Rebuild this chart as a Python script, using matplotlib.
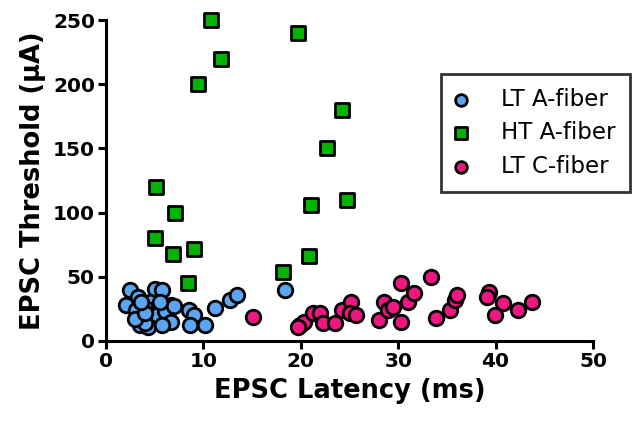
import matplotlib
matplotlib.use("Agg")
import matplotlib.pyplot as plt

plt.rcParams['font.family'] = ['DejaVu Sans']

# LT A-fiber (blue circles)
lta_x = [2.5, 5.0, 5.7, 3.3, 2.1, 3.1, 4.5, 4.5, 5.4, 6.7, 3.8, 5.2, 6.1, 6.7,
         3.5, 4.3, 5.7, 8.5, 9.0, 8.6, 10.2, 11.2, 12.7, 13.5, 18.4, 4.0, 3.0,
         7.0, 4.0, 5.5, 3.6]
lta_y = [40, 40.5, 40, 34.5, 28, 24, 30.6, 24, 26.7, 28, 19, 20, 23, 15,
         12.5, 11, 12.5, 24, 20, 12.5, 12.5, 26, 32, 36, 40, 14, 17,
         27, 22, 30, 30]

# HT A-fiber (green squares)
hta_x = [10.8, 19.7, 11.8, 9.4, 24.2, 22.7, 5.1, 24.7, 21.0, 7.1, 5.0, 9.0,
         6.9, 20.8, 18.2, 8.4]
hta_y = [250, 240, 220, 200, 180, 150, 120, 110, 106, 100, 80, 72,
         68, 66, 54, 45]

# LT C-fiber (pink circles)
ltc_x = [15.1, 19.9, 20.3, 21.3, 22.0, 22.3, 23.5, 24.2, 25.2, 25.1, 25.7,
         28.0, 28.5, 29.0, 29.5, 30.3, 30.3, 31.0, 31.6, 33.4, 33.9, 35.3,
         35.8, 36.0, 39.3, 39.1, 40.8, 39.9, 42.3, 43.7, 19.7]
ltc_y = [18.5, 12.5, 15, 21.5, 21.5, 13.8, 14.3, 24, 30.6, 21.5, 20,
         16.4, 30.6, 24, 26.7, 45, 15, 30.6, 37, 50, 17.7, 24,
         32, 36, 38.4, 34.5, 29.4, 20, 24, 30.6, 11]

x_ticks = [0, 10, 20, 30, 40, 50]
y_ticks = [0, 50, 100, 150, 200, 250]

fig = plt.figure(figsize=(6.33, 4.25), dpi=100)
ax = fig.add_axes([106/633, 1-341/425, (593-106)/633, (341-20)/425])

mk = dict(s=110, edgecolors='black', linewidths=2.0, zorder=3, clip_on=False)
ax.scatter(lta_x, lta_y, marker='o', color='#5ba6f2', label='LT A-fiber', **mk)
ax.scatter(hta_x, hta_y, marker='s', color='#00b400', label='HT A-fiber', **mk)
ax.scatter(ltc_x, ltc_y, marker='o', color='#ee1680', label='LT C-fiber', **mk)

ax.set_xlim(0, 50)
ax.set_ylim(0, 250)
ax.set_xticks(x_ticks)
ax.set_yticks(y_ticks)
for s in ['top', 'right']:
    ax.spines[s].set_visible(False)
for s in ['left', 'bottom']:
    ax.spines[s].set_linewidth(2.2)
ax.tick_params(direction='out', length=6, width=2.2, labelsize=14.5, pad=2)
for lab in ax.get_xticklabels() + ax.get_yticklabels():
    lab.set_fontweight('bold')

ax.set_xlabel('EPSC Latency (ms)', fontsize=18.5, fontweight='bold', labelpad=5)
ax.set_ylabel('EPSC Threshold (\u03bcA)', fontsize=18.5, fontweight='bold', labelpad=5)

leg = fig.legend(loc='upper right', bbox_to_anchor=(0.995, 0.826),
                 fontsize=16.5, frameon=True, fancybox=False, edgecolor='black',
                 markerscale=0.8, handletextpad=1.5, labelspacing=0.45,
                 borderpad=0.62, handlelength=0.5, borderaxespad=0.0)
leg.get_frame().set_linewidth(2.0)

fig.savefig('out.png', dpi=100)
